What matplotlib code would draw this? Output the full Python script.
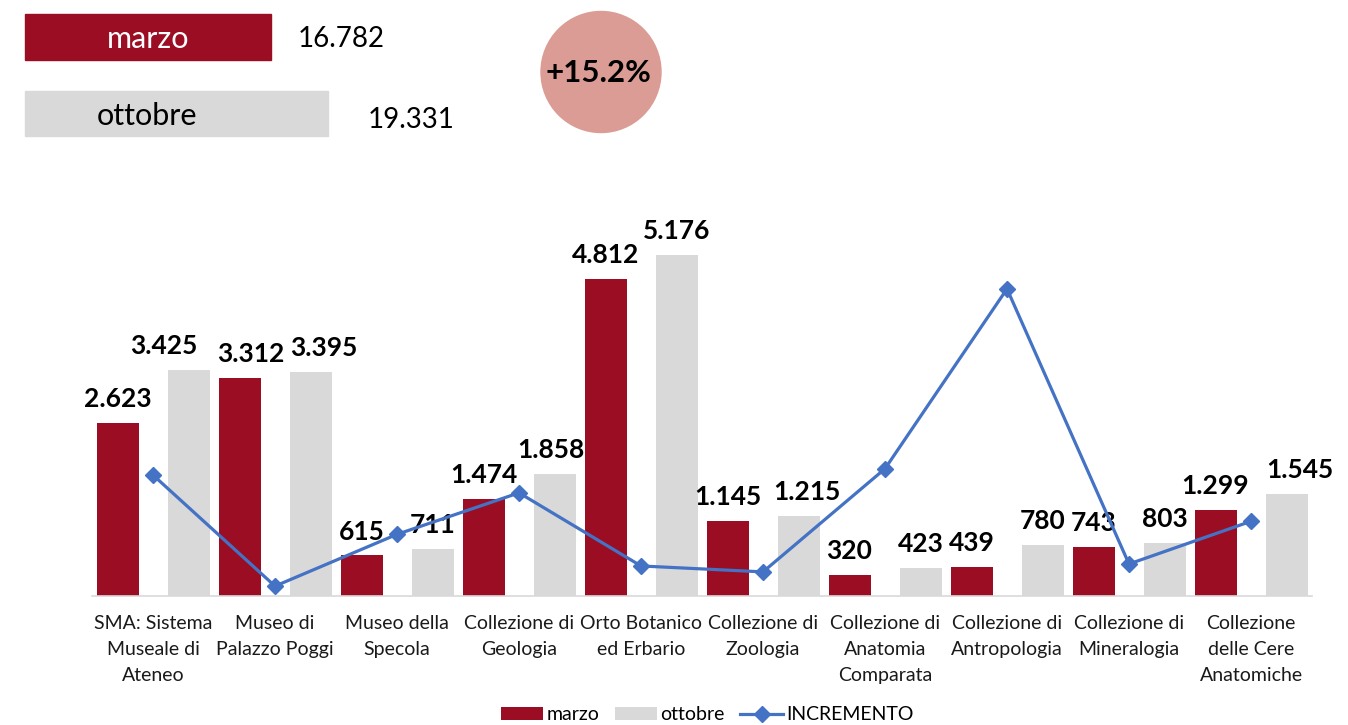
import numpy as np
import matplotlib
matplotlib.use("Agg")
import matplotlib.pyplot as plt
from matplotlib.patches import Rectangle, Ellipse

plt.rcParams['font.family'] = ['Lato', 'DejaVu Sans']

categories = ["SMA: Sistema\nMuseale di\nAteneo", "Museo di\nPalazzo Poggi", "Museo della\nSpecola",
              "Collezione di\nGeologia", "Orto Botanico\ned Erbario", "Collezione di\nZoologia",
              "Collezione di\nAnatomia\nComparata", "Collezione di\nAntropologia",
              "Collezione di\nMineralogia", "Collezione\ndelle Cere\nAnatomiche"]
marzo = [2623, 3312, 615, 1474, 4812, 1145, 320, 439, 743, 1299]
ottobre = [3425, 3395, 711, 1858, 5176, 1215, 423, 780, 803, 1545]
incremento = [30.6, 2.5, 15.6, 26.1, 7.6, 6.1, 32.2, 77.7, 8.1, 18.9]  # percent
total_marzo = 16782
total_ottobre = 19331
total_incr = "+15.2%"

RED = "#9B0D23"
GRAY = "#D9D9D9"
BLUE = "#4472C4"
PINK = "#DA9C94"

def fmt(v):
    return f"{v:,}".replace(",", ".")

W, H = 1348, 725
fig = plt.figure(figsize=(W/100, H/100), dpi=100)
ax = fig.add_axes([92/W, 129/H, 1220/W, 395.3/H])
x = np.arange(len(categories))
bw = 42/122
off = 35.5/122
b1 = ax.bar(x - off, marzo, bw, color=RED, label="marzo")
b2 = ax.bar(x + off, ottobre, bw, color=GRAY, label="ottobre")
ax.set_xlim(-0.5, len(categories) - 0.5)
ax.set_ylim(0, 6000)
for s in ["top", "right", "left"]:
    ax.spines[s].set_visible(False)
ax.spines["bottom"].set_color(GRAY)
ax.spines["bottom"].set_linewidth(1.2)
ax.set_yticks([])
ax.set_xticks(x, categories, fontsize=14, color="#1a1a1a", linespacing=1.62)
ax.tick_params(axis='x', length=0, pad=14)

# label nudges in pixels (Excel overlap adjustment)
dx_m = [0, 11, 0, 0, 0, 0, 0, 0, 0, 0]
dx_o = [-25, 13, 0, -4, 0, 8, 0, 0, 0, 13]
for i in range(len(categories)):
    ax.annotate(fmt(marzo[i]), (x[i] - off, marzo[i]), xytext=(dx_m[i]*0.72, 11.5),
                textcoords="offset points", ha="center", va="baseline",
                fontsize=19, fontweight="bold", color="black")
    ax.annotate(fmt(ottobre[i]), (x[i] + off, ottobre[i]), xytext=(dx_o[i]*0.72, 11.5),
                textcoords="offset points", ha="center", va="baseline",
                fontsize=19, fontweight="bold", color="black")

ax2 = ax.twinx()
ln, = ax2.plot(x, incremento, color=BLUE, lw=2.3, marker="D", ms=8, label="INCREMENTO")
ax2.set_ylim(0, 100)
ax2.set_yticks([])
for s in ax2.spines.values():
    s.set_visible(False)

fig.legend([b1, b2, ln], ["marzo", "ottobre", "INCREMENTO"], loc="lower center",
           bbox_to_anchor=(707/W, -0.022), ncol=3, frameon=False, fontsize=14,
           handlelength=2.2, handletextpad=0.15, columnspacing=0.8)

# top summary
axo = fig.add_axes([0, 0, 1, 1])
axo.set_xlim(0, W)
axo.set_ylim(H, 0)
axo.axis("off")
axo.add_patch(Rectangle((25, 14), 246, 46, color=RED))
axo.add_patch(Rectangle((25, 91), 303, 45, color=GRAY))
axo.text(148, 39, "marzo", ha="center", va="center", fontsize=22, color="white")
axo.text(147, 116, "ottobre", ha="center", va="center", fontsize=22, color="black")
axo.text(298, 39, fmt(total_marzo), ha="left", va="center", fontsize=20, color="black")
axo.text(368, 120, fmt(total_ottobre), ha="left", va="center", fontsize=20, color="black")
axo.add_patch(Ellipse((601, 72), 120, 121, color=PINK))
axo.text(598, 73, total_incr, ha="center", va="center", fontsize=22.5, fontweight="bold", color="black")

fig.savefig("out.png", dpi=100)
